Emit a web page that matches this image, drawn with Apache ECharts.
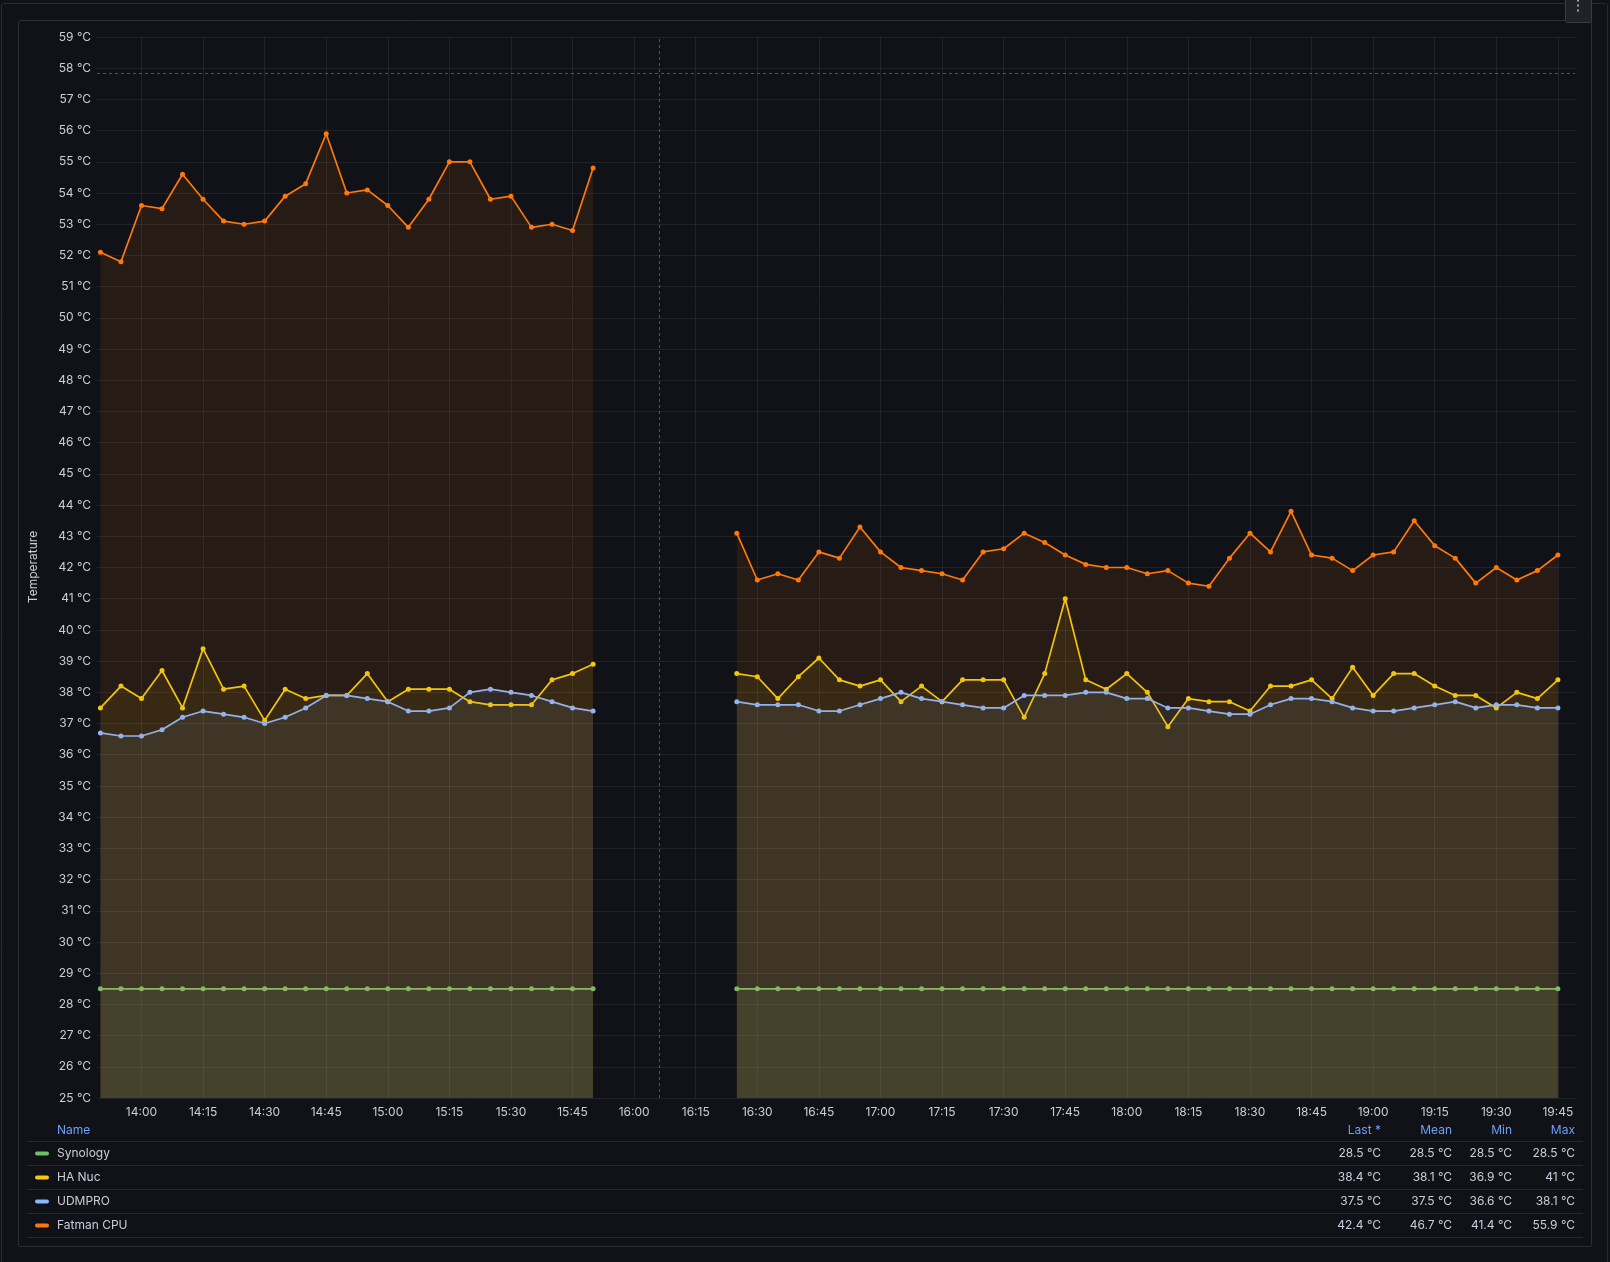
<!DOCTYPE html>
<html>
<head>
<meta charset="utf-8">
<script src="https://cdn.jsdelivr.net/npm/echarts@6/dist/echarts.min.js"></script>
<style>
  html, body { margin: 0; padding: 0; background: #111217; }
  #chart { width: 1610px; height: 1262px; }
</style>
</head>
<body>
<div id="chart"></div>
<script>
// ---------- DATA ----------
const seriesNames = ['Synology', 'HA Nuc', 'UDMPRO', 'Fatman CPU'];
const seriesColors = ['#73BF69', '#F2CC0C', '#8AB8FF', '#FF780A'];

// first block of samples: 13:50 .. 15:50 every 5 min
const block1Start = '13:50';
// second block of samples: 16:25 .. 19:45 every 5 min
const block2Start = '16:25';
const stepMinutes = 5;

const synology1 = [28.5,28.5,28.5,28.5,28.5,28.5,28.5,28.5,28.5,28.5,28.5,28.5,28.5,28.5,28.5,28.5,28.5,28.5,28.5,28.5,28.5,28.5,28.5,28.5,28.5];
const haNuc1    = [37.5,38.2,37.8,38.7,37.5,39.4,38.1,38.2,37.1,38.1,37.8,37.9,37.9,38.6,37.7,38.1,38.1,38.1,37.7,37.6,37.6,37.6,38.4,38.6,38.9];
const udmpro1   = [36.7,36.6,36.6,36.8,37.2,37.4,37.3,37.2,37.0,37.2,37.5,37.9,37.9,37.8,37.7,37.4,37.4,37.5,38.0,38.1,38.0,37.9,37.7,37.5,37.4];
const fatman1   = [52.1,51.8,53.6,53.5,54.6,53.8,53.1,53.0,53.1,53.9,54.3,55.9,54.0,54.1,53.6,52.9,53.8,55.0,55.0,53.8,53.9,52.9,53.0,52.8,54.8];

const synology2 = [28.5,28.5,28.5,28.5,28.5,28.5,28.5,28.5,28.5,28.5,28.5,28.5,28.5,28.5,28.5,28.5,28.5,28.5,28.5,28.5,28.5,28.5,28.5,28.5,28.5,28.5,28.5,28.5,28.5,28.5,28.5,28.5,28.5,28.5,28.5,28.5,28.5,28.5,28.5,28.5,28.5];
const haNuc2    = [38.6,38.5,37.8,38.5,39.1,38.4,38.2,38.4,37.7,38.2,37.7,38.4,38.4,38.4,37.2,38.6,41.0,38.4,38.1,38.6,38.0,36.9,37.8,37.7,37.7,37.4,38.2,38.2,38.4,37.8,38.8,37.9,38.6,38.6,38.2,37.9,37.9,37.5,38.0,37.8,38.4];
const udmpro2   = [37.7,37.6,37.6,37.6,37.4,37.4,37.6,37.8,38.0,37.8,37.7,37.6,37.5,37.5,37.9,37.9,37.9,38.0,38.0,37.8,37.8,37.5,37.5,37.4,37.3,37.3,37.6,37.8,37.8,37.7,37.5,37.4,37.4,37.5,37.6,37.7,37.5,37.6,37.6,37.5,37.5];
const fatman2   = [43.1,41.6,41.8,41.6,42.5,42.3,43.3,42.5,42.0,41.9,41.8,41.6,42.5,42.6,43.1,42.8,42.4,42.1,42.0,42.0,41.8,41.9,41.5,41.4,42.3,43.1,42.5,43.8,42.4,42.3,41.9,42.4,42.5,43.5,42.7,42.3,41.5,42.0,41.6,41.9,42.4];

const blocks1 = [synology1, haNuc1, udmpro1, fatman1];
const blocks2 = [synology2, haNuc2, udmpro2, fatman2];

// x tick labels
const xTickLabels = ['14:00','14:15','14:30','14:45','15:00','15:15','15:30','15:45','16:00','16:15','16:30','16:45',
                     '17:00','17:15','17:30','17:45','18:00','18:15','18:30','18:45','19:00','19:15','19:30','19:45'];

// legend table statistics
const statHeaders = ['Last *', 'Mean', 'Min', 'Max'];
const statLast = [28.5, 38.4, 37.5, 42.4];
const statMean = [28.5, 38.1, 37.5, 46.7];
const statMin  = [28.5, 36.9, 36.6, 41.4];
const statMax  = [28.5, 41, 38.1, 55.9];

// axis settings
const yMin = 25, yMax = 59, yStep = 1, yUnit = ' °C';
const thresholdValue = 57.85;
const markerTime = '16:06';
const axisStart = '13:49:10';
const axisEnd = '19:49:10';

// ---------- BUILD ----------
// x values are minutes since midnight
function toMin(s) {
  const p = s.split(':').map(Number);
  return p[0] * 60 + p[1] + (p[2] || 0) / 60;
}
function fmtMin(v) {
  const m = Math.round(v);
  const h = Math.floor(m / 60), mm = m % 60;
  return String(h).padStart(2, '0') + ':' + String(mm).padStart(2, '0');
}
const xTicks = xTickLabels.map(toMin);

function buildData(a, b) {
  const t1 = toMin(block1Start);
  const t2 = toMin(block2Start);
  const out = a.map((v, i) => [t1 + i * stepMinutes, v]);
  out.push([t1 + a.length * stepMinutes, '-']);
  b.forEach((v, i) => out.push([t2 + i * stepMinutes, v]));
  return out;
}

const TEXT = '#ccccdc';
const GRIDC = 'rgba(204,204,220,0.09)';
const FONT = 'Inter, "Noto Sans", sans-serif';

const series = [];
// vertical grid lines at the x tick positions (through the axis scale)
series.push({
  name: '_grid',
  type: 'line',
  data: [],
  silent: true,
  z: 0,
  markLine: {
    silent: true,
    symbol: 'none',
    label: { show: false },
    z: 0,
    lineStyle: { color: GRIDC, type: 'solid', width: 1 },
    emphasis: { disabled: true },
    data: xTicks.map(v => ({ xAxis: v }))
  }
});

seriesNames.forEach((name, k) => series.push({
  name,
  type: 'line',
  data: buildData(blocks1[k], blocks2[k]),
  color: seriesColors[k],
  lineStyle: { width: 1.7, color: seriesColors[k] },
  itemStyle: { color: seriesColors[k] },
  symbol: 'circle',
  symbolSize: 5,
  showSymbol: true,
  showAllSymbol: true,
  connectNulls: false,
  areaStyle: { origin: 'start', color: seriesColors[k], opacity: 0.09 },
  emphasis: { disabled: true },
  silent: true,
  z: 2 + k
}));

series[1].markLine = {
  silent: true,
  symbol: 'none',
  label: { show: false },
  lineStyle: { color: 'rgba(204,204,220,0.35)', type: [3, 3], width: 1 },
  emphasis: { disabled: true },
  data: [
    { yAxis: thresholdValue },
    { xAxis: toMin(markerTime) }
  ]
};

// graphics: frames, y-axis name, legend table
const graphics = [];
graphics.push({ type: 'rect', shape: { x: 1.5, y: 3.5, width: 1606, height: 1300, r: 2 }, style: { fill: 'none', stroke: '#2a2b31', lineWidth: 1 }, silent: true });
graphics.push({ type: 'rect', shape: { x: 18.5, y: 20.5, width: 1573, height: 1226, r: 2 }, style: { fill: 'none', stroke: '#2e2f35', lineWidth: 1 }, silent: true });
graphics.push({ type: 'rect', shape: { x: 1565.5, y: -5.5, width: 26, height: 28, r: 2 }, style: { fill: '#202228', stroke: '#3a3c43', lineWidth: 1 }, silent: true });
[0.5, 5.5, 10.5].forEach(yy => graphics.push({ type: 'rect', shape: { x: 1577, y: yy - 1, width: 2, height: 2 }, style: { fill: '#a0a1a8' }, silent: true }));

graphics.push({ type: 'text', x: 33, y: 567, rotation: Math.PI / 2, style: { text: 'Temperature', fill: TEXT, font: '12px ' + FONT, align: 'center', verticalAlign: 'middle' }, silent: true });

const headerY = 1130;
const rowY0 = 1153.5, rowH = 24;
const colRight = [1381, 1452, 1512, 1575];
const HEAD = '#6E9FFF';
graphics.push({ type: 'text', x: 57, y: headerY, style: { text: 'Name', fill: HEAD, font: '12px ' + FONT, align: 'left', verticalAlign: 'middle' }, silent: true });
statHeaders.forEach((h, j) => graphics.push({ type: 'text', x: colRight[j], y: headerY, style: { text: h, fill: HEAD, font: '12px ' + FONT, align: 'right', verticalAlign: 'middle' }, silent: true }));
for (let i = 0; i <= seriesNames.length; i++) {
  graphics.push({ type: 'line', shape: { x1: 27, y1: 1141.5 + i * rowH, x2: 1583, y2: 1141.5 + i * rowH }, style: { stroke: '#26272d', lineWidth: 1 }, silent: true });
}
const fmt = v => v + ' °C';
seriesNames.forEach((name, i) => {
  const y = rowY0 + i * rowH;
  graphics.push({ type: 'rect', shape: { x: 35, y: y - 2, width: 14, height: 4, r: 2 }, style: { fill: seriesColors[i] }, silent: true });
  graphics.push({ type: 'text', x: 57, y, style: { text: name, fill: TEXT, font: '12px ' + FONT, align: 'left', verticalAlign: 'middle' }, silent: true });
  [statLast, statMean, statMin, statMax].forEach((arr, j) => {
    graphics.push({ type: 'text', x: colRight[j], y, style: { text: fmt(arr[i]), fill: TEXT, font: '12px ' + FONT, align: 'right', verticalAlign: 'middle' }, silent: true });
  });
});

const option = {
  backgroundColor: '#111217',
  animation: false,
  textStyle: { fontFamily: FONT },
  grid: { left: 97, right: 35, top: 37, bottom: 164, containLabel: false },
  xAxis: {
    type: 'value',
    min: toMin(axisStart),
    max: toMin(axisEnd),
    axisLine: { show: false },
    axisTick: { show: false, customValues: xTicks },
    axisLabel: { customValues: xTicks, formatter: v => fmtMin(v), color: TEXT, fontSize: 12, margin: 8, fontFamily: FONT, hideOverlap: false, showMinLabel: true, showMaxLabel: true },
    splitLine: { show: false }
  },
  yAxis: {
    type: 'value',
    min: yMin, max: yMax, interval: yStep,
    axisLine: { show: false },
    axisTick: { show: false },
    axisLabel: { formatter: v => v + yUnit, color: TEXT, fontSize: 12, margin: 6, fontFamily: FONT },
    splitLine: { show: true, lineStyle: { color: GRIDC, width: 1 } }
  },
  legend: { show: false },
  tooltip: { show: false },
  graphic: graphics,
  series
};

const chart = echarts.init(document.getElementById('chart'), null, { renderer: 'canvas' });
chart.setOption(option);
</script>
</body>
</html>
